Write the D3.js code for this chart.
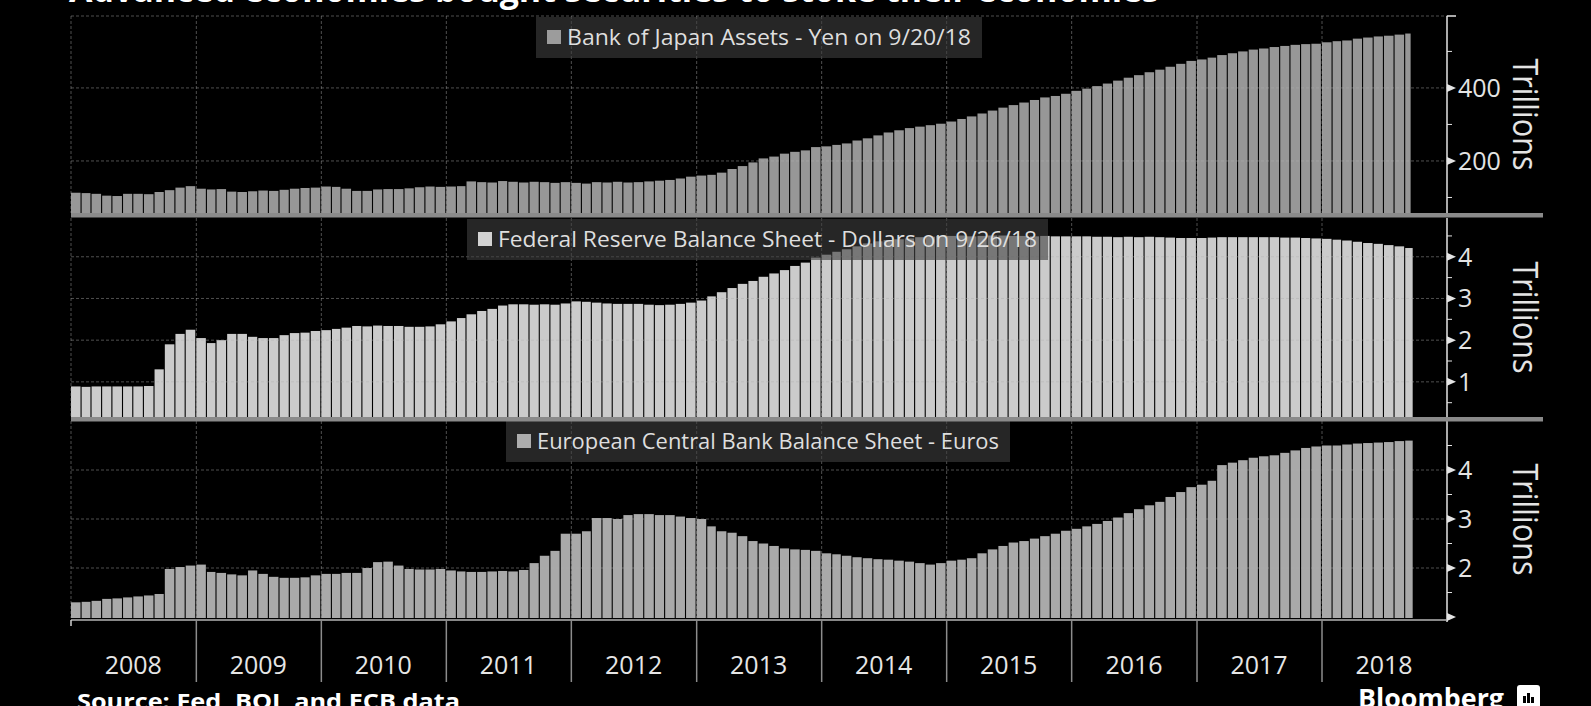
<!DOCTYPE html>
<html lang="en">
<head>
<meta charset="UTF-8">
<title>Central bank balance sheets</title>
<style>
  html, body { margin: 0; padding: 0; background: #000; }
  svg { display: block; font-family: 'Open Sans', sans-serif; }
</style>
<script src="https://d3js.org/d3.v7.min.js"></script>
</head>
<body>
<script>
// monthly values, Jan 2008 .. Sep 2018
const months = d3.timeMonth.range(new Date(2008, 0, 1), new Date(2018, 8, 2));

// Bank of Japan, trillion yen
const bojAssets = [
  113,112,110,105,104,110,110,109,115,120,127,131,
  124,122,123,116,115,117,119,118,121,124,126,127,
  130,129,124,118,118,122,123,123,125,128,130,129,
  130,131,144,142,141,145,143,141,143,142,140,142,
  140,138,142,141,143,141,142,144,146,148,152,157,
  160,162,168,178,186,196,207,212,220,225,229,238,
  240,244,248,256,262,270,278,284,290,294,298,302,
  308,315,322,330,338,346,353,360,367,374,378,384,
  392,398,405,412,420,428,435,443,450,458,466,474,
  478,483,490,495,500,505,508,512,515,518,520,521,
  525,528,530,535,538,541,543,546,549
];

// Federal Reserve, trillion dollars
const fedAssets = [
  0.89,0.88,0.89,0.89,0.89,0.89,0.89,0.90,1.30,1.90,2.15,2.25,
  2.05,1.93,2.00,2.15,2.15,2.08,2.05,2.05,2.12,2.17,2.18,2.22,
  2.24,2.27,2.30,2.34,2.33,2.35,2.34,2.34,2.32,2.32,2.33,2.38,
  2.45,2.53,2.62,2.70,2.75,2.83,2.86,2.86,2.85,2.86,2.85,2.88,
  2.93,2.92,2.90,2.88,2.87,2.87,2.87,2.85,2.84,2.85,2.87,2.90,
  2.95,3.05,3.15,3.25,3.35,3.42,3.52,3.60,3.68,3.78,3.86,3.98,
  4.05,4.12,4.18,4.25,4.32,4.37,4.40,4.42,4.44,4.47,4.48,4.50,
  4.50,4.51,4.49,4.50,4.51,4.51,4.50,4.50,4.49,4.50,4.49,4.49,
  4.49,4.49,4.48,4.48,4.47,4.48,4.47,4.48,4.47,4.46,4.45,4.45,
  4.45,4.46,4.47,4.47,4.47,4.47,4.47,4.47,4.46,4.46,4.45,4.44,
  4.43,4.41,4.39,4.36,4.33,4.31,4.28,4.25,4.21
];

// European Central Bank, trillion euros
const ecbAssets = [
  1.30,1.31,1.33,1.37,1.38,1.40,1.42,1.44,1.47,1.98,2.02,2.05,
  2.07,1.92,1.90,1.87,1.85,1.95,1.88,1.82,1.80,1.80,1.81,1.85,
  1.88,1.88,1.90,1.90,2.00,2.12,2.13,2.05,1.98,1.97,1.97,1.98,
  1.95,1.93,1.92,1.92,1.93,1.94,1.93,1.96,2.10,2.25,2.35,2.70,
  2.70,2.75,3.02,3.02,3.00,3.08,3.10,3.10,3.08,3.08,3.05,3.02,
  3.00,2.85,2.75,2.72,2.65,2.55,2.50,2.45,2.40,2.38,2.37,2.35,
  2.30,2.28,2.25,2.22,2.20,2.18,2.17,2.15,2.13,2.10,2.07,2.10,
  2.15,2.17,2.20,2.30,2.38,2.45,2.52,2.55,2.60,2.65,2.70,2.76,
  2.80,2.85,2.90,2.96,3.03,3.12,3.20,3.28,3.35,3.45,3.55,3.65,
  3.70,3.78,4.10,4.15,4.20,4.25,4.28,4.30,4.35,4.40,4.45,4.48,
  4.50,4.50,4.52,4.54,4.55,4.56,4.57,4.59,4.60
];

const yearLabels = ["2008","2009","2010","2011","2012","2013","2014","2015","2016","2017","2018"];

const bojTicks = [200, 400], bojMinor = [100, 300, 500];
const fedTicks = [1, 2, 3, 4], fedMinor = [0.5, 1.5, 2.5, 3.5, 4.5];
const ecbTicks = [1, 2, 3, 4], ecbMinor = [1.5, 2.5, 3.5, 4.5];

const panels = [
  { values: bojAssets, asOf: new Date(2018, 8, 20), label: "Bank of Japan Assets - Yen on 9/20/18",
    fill: "#979797", swatch: "#9c9c9c", top: 16, bottom: 213, domain: [57.5, 597],
    ticks: bojTicks, minor: bojMinor, box: [536, 982], boxTop: 17 },
  { values: fedAssets, asOf: new Date(2018, 8, 26), label: "Federal Reserve Balance Sheet - Dollars on 9/26/18",
    fill: "#cbcbcb", swatch: "#d2d2d2", top: 218, bottom: 417, domain: [0.157, 4.93],
    ticks: fedTicks, minor: fedMinor, box: [467, 1048], boxTop: 219 },
  { values: ecbAssets, asOf: new Date(2018, 8, 26), label: "European Central Bank Balance Sheet - Euros",
    fill: "#a9a9a9", swatch: "#adadad", top: 421, bottom: 618, domain: [0.98, 5.0],
    ticks: ecbTicks, minor: ecbMinor, box: [506, 1010], boxTop: 421 }
];

const W = 1591, H = 706;
const left = 71, right = 1447;

const svg = d3.select("body").append("svg")
  .attr("width", W).attr("height", H);

svg.append("rect").attr("width", W).attr("height", H).attr("fill", "#000");

const x = d3.scaleTime()
  .domain([new Date(2008, 0, 1), new Date(2019, 0, 1)])
  .range([left, right]);

const yearStarts = yearLabels.map(y => new Date(+y, 0, 1));

// title, mostly cut off by the top edge
svg.append("text")
  .attr("x", 69).attr("y", 2)
  .attr("fill", "#fff")
  .attr("font-weight", "bold")
  .attr("font-size", 34)
  .attr("textLength", 1090)
  .attr("lengthAdjust", "spacingAndGlyphs")
  .text("Advanced economies bought securities to stoke their economies");

panels.forEach(p => {
  const y = d3.scaleLinear().domain(p.domain).range([p.bottom, p.top]);
  const g = svg.append("g");

  // bars
  g.selectAll("rect.bar")
    .data(p.values)
    .join("rect")
    .attr("class", "bar")
    .attr("x", (d, i) => x(months[i]))
    .attr("width", (d, i) => {
      const end = i < p.values.length - 1 ? months[i + 1] : p.asOf;
      return Math.max(0.5, x(end) - x(months[i]) - 1.1);
    })
    .attr("y", d => y(d))
    .attr("height", d => p.bottom - y(d))
    .attr("fill", p.fill);

  // grid on top of the bars
  const grid = g.append("g")
    .attr("stroke", "rgba(175,175,175,0.45)")
    .attr("stroke-width", 1)
    .attr("stroke-dasharray", "3,2");

  grid.selectAll("line.v")
    .data(yearStarts)
    .join("line")
    .attr("x1", d => x(d)).attr("x2", d => x(d))
    .attr("y1", p.top).attr("y2", p.bottom);

  const hLines = p.ticks.filter(t => y(t) < p.bottom - 2);
  if (p === panels[0]) hLines.push(p.domain[1]);
  grid.selectAll("line.h")
    .data(hLines)
    .join("line")
    .attr("x1", left).attr("x2", right)
    .attr("y1", d => y(d)).attr("y2", d => y(d));

  // right axis
  const ax = g.append("g").attr("fill", "#e4e4e4").attr("stroke", "#e4e4e4");
  ax.append("line")
    .attr("x1", right).attr("x2", right)
    .attr("y1", p.top).attr("y2", p.bottom + 4)
    .attr("stroke-width", 1.5);

  ax.selectAll("line.minor")
    .data(p.minor)
    .join("line")
    .attr("x1", right).attr("x2", right + 5)
    .attr("y1", d => y(d)).attr("y2", d => y(d))
    .attr("stroke-width", 1);

  ax.selectAll("path.major")
    .data(p.ticks)
    .join("path")
    .attr("stroke", "none")
    .attr("d", d => `M${right},${y(d) - 4}L${right + 9},${y(d)}L${right},${y(d) + 4}Z`);

  ax.selectAll("text.tick")
    .data(p.ticks.filter(t => y(t) < p.bottom - 5))
    .join("text")
    .attr("stroke", "none")
    .attr("x", right + 11)
    .attr("y", d => y(d))
    .attr("dy", "0.36em")
    .attr("font-size", 25)
    .text(d => d);

  if (p === panels[0]) {
    ax.append("line")
      .attr("x1", right).attr("x2", right + 9)
      .attr("y1", p.top).attr("y2", p.top)
      .attr("stroke-width", 1.5);
  }

  // unit label
  const cy = (p.top + p.bottom) / 2;
  g.append("text")
    .attr("transform", `translate(1513,${cy}) rotate(90)`)
    .attr("text-anchor", "middle")
    .attr("fill", "#e4e4e4")
    .attr("font-size", 34)
    .attr("textLength", 112)
    .attr("lengthAdjust", "spacingAndGlyphs")
    .text("Trillions");

  // legend
  const bw = p.box[1] - p.box[0];
  const lg = g.append("g").attr("transform", `translate(${p.box[0]},${p.boxTop})`);
  lg.append("rect")
    .attr("width", bw).attr("height", 41)
    .attr("fill", "rgba(63,63,63,0.6)");
  lg.append("rect")
    .attr("x", 11).attr("y", 13)
    .attr("width", 14).attr("height", 14)
    .attr("fill", p.swatch);
  lg.append("text")
    .attr("x", 31).attr("y", 28)
    .attr("fill", "#dedede")
    .attr("font-size", 21)
    .attr("textLength", bw - 42)
    .attr("lengthAdjust", "spacingAndGlyphs")
    .text(p.label);
});

// separator bands between the panels
svg.selectAll("rect.sep")
  .data([panels[0].bottom, panels[1].bottom])
  .join("rect")
  .attr("x", left).attr("width", 1543 - left)
  .attr("y", d => d).attr("height", 4.5)
  .attr("fill", "#8a8a8a");

// bottom time axis
const axisY = 620;
svg.append("line")
  .attr("x1", left).attr("x2", right)
  .attr("y1", axisY).attr("y2", axisY)
  .attr("stroke", "#b5b5b5").attr("stroke-width", 1.5);

svg.selectAll("line.year")
  .data(yearStarts.slice(1))
  .join("line")
  .attr("x1", d => x(d)).attr("x2", d => x(d))
  .attr("y1", axisY).attr("y2", 682)
  .attr("stroke", "#8c8c8c").attr("stroke-width", 1.5);

svg.append("line")
  .attr("x1", left).attr("x2", left)
  .attr("y1", axisY).attr("y2", axisY + 6)
  .attr("stroke", "#d0d0d0").attr("stroke-width", 1.5);

svg.selectAll("text.year")
  .data(yearLabels)
  .join("text")
  .attr("x", d => x(new Date(+d, 6, 1)))
  .attr("y", 674)
  .attr("text-anchor", "middle")
  .attr("fill", "#e6e6e6")
  .attr("font-size", 25)
  .text(d => d);

// footer
svg.append("text")
  .attr("x", 77).attr("y", 709)
  .attr("fill", "#fff")
  .attr("font-weight", "bold")
  .attr("font-size", 22)
  .attr("textLength", 383)
  .attr("lengthAdjust", "spacingAndGlyphs")
  .text("Source: Fed, BOJ, and ECB data");

svg.append("text")
  .attr("x", 1358).attr("y", 708)
  .attr("fill", "#fff")
  .attr("font-weight", "bold")
  .attr("font-size", 26)
  .attr("textLength", 146)
  .attr("lengthAdjust", "spacingAndGlyphs")
  .text("Bloomberg");

const logo = svg.append("g").attr("transform", "translate(1517,685)");
logo.append("rect").attr("width", 23).attr("height", 24).attr("rx", 3).attr("fill", "#fff");
logo.selectAll("rect.b")
  .data([[6, 11, 3], [10, 8, 3], [14, 12, 3]])
  .join("rect")
  .attr("x", d => d[0]).attr("y", d => d[1])
  .attr("width", d => d[2]).attr("height", d => 18 - d[1])
  .attr("fill", "#000");
</script>
</body>
</html>
